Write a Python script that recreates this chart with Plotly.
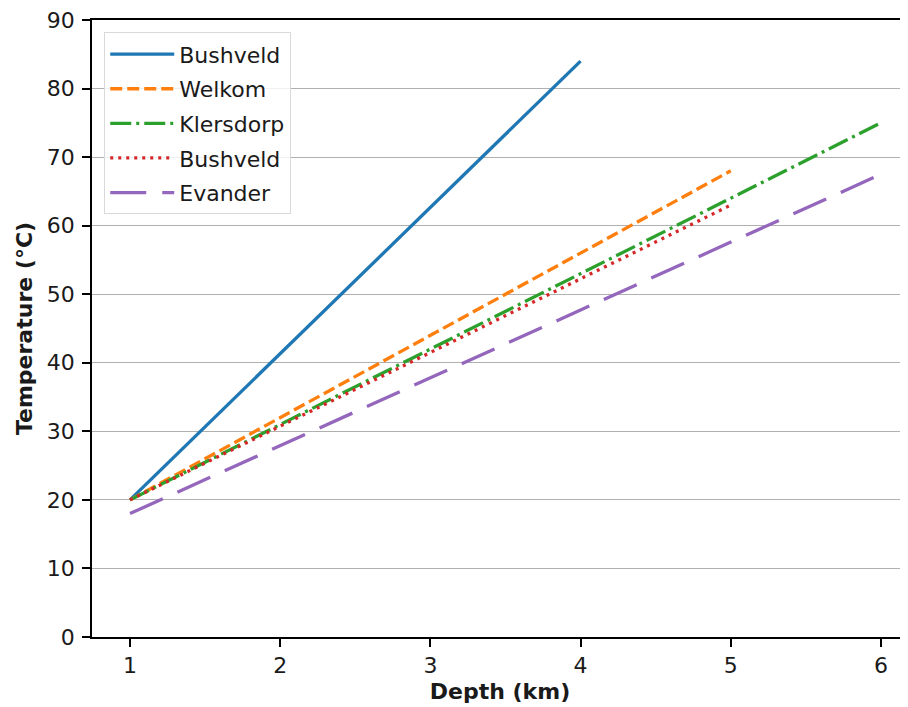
import plotly.graph_objects as go

depth_bushveld = [1, 4]
temp_bushveld = [20, 84]
depth_welkom = [1, 5]
temp_welkom = [20, 68]
depth_klersdorp = [1, 6]
temp_klersdorp = [20, 75]
depth_bushveld2 = [1, 5]
temp_bushveld2 = [20, 63]
depth_evander = [1, 6]
temp_evander = [18, 67.5]

series = [
    ("Bushveld", depth_bushveld, temp_bushveld, "#1f77b4", "solid"),
    ("Welkom", depth_welkom, temp_welkom, "#ff7f0e", "12px,5px"),
    ("Klersdorp", depth_klersdorp, temp_klersdorp, "#2ca02c", "21px,5px,3px,5px"),
    ("Bushveld", depth_bushveld2, temp_bushveld2, "#d62728", "3px,5px"),
    ("Evander", depth_evander, temp_evander, "#9467bd", "36px,16px"),
]

fig = go.Figure()
for i, (name, x, y, c, d) in enumerate(series):
    fig.add_trace(go.Scatter(x=x, y=y, mode="lines", name=name, legendgroup=f"g{i}",
                             line=dict(color=c, width=3.3, dash=d)))

font = "DejaVu Sans"
fs = 22
fig.update_layout(
    width=900, height=699,
    margin=dict(l=84, r=0, t=12, b=70),
    plot_bgcolor="white", paper_bgcolor="white",
    font=dict(family=font, size=fs, color="#1a1a1a"),
    showlegend=True,
    legend=dict(x=0.015, y=0.98, xanchor="left", yanchor="top",
                bgcolor="rgba(255,255,255,0.8)", bordercolor="#d9d9d9", borderwidth=1,
                tracegroupgap=3, itemwidth=64,
                font=dict(size=fs, family=font)),
    xaxis=dict(range=[0.747, 6.18], tickvals=[1, 2, 3, 4, 5, 6],
               showgrid=False, zeroline=False, showline=True, linecolor="black",
               linewidth=1.8, mirror=True, ticks="outside", ticklen=8, tickwidth=1.8,
               tickcolor="black", ticklabeloverflow="allow",
               title=dict(text="<b>Depth (km)</b>", font=dict(size=fs), standoff=6)),
    yaxis=dict(range=[0, 90], tickvals=list(range(0, 91, 10)),
               showgrid=True, gridcolor="#b0b0b0", gridwidth=1.2, zeroline=False,
               showline=True, linecolor="black", linewidth=1.8,
               ticks="outside", ticklen=8, tickwidth=1.8, tickcolor="black",
               ticklabelstandoff=3, ticklabeloverflow="allow",
               title=dict(text="<b>Temperature (°C)</b>", font=dict(size=fs), standoff=8)),
)

fig.write_html("out.html")
